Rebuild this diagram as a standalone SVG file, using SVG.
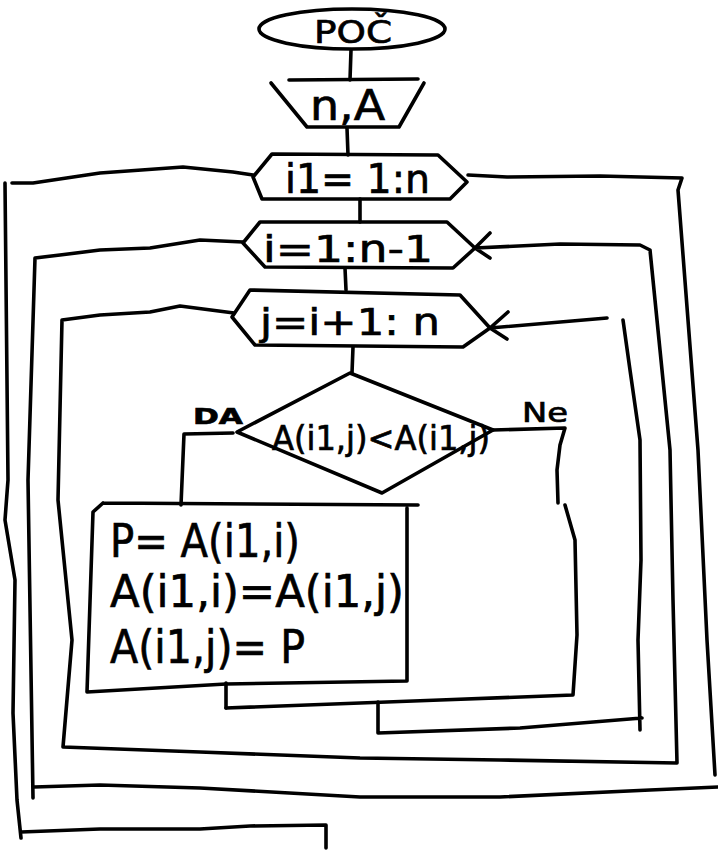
<svg xmlns="http://www.w3.org/2000/svg" width="718" height="853" viewBox="0 0 718 853">
<style>
.s{fill:none;stroke:#000;stroke-width:3.6;stroke-linecap:round;stroke-linejoin:round}
.t{font-family:"DejaVu Sans","Liberation Sans",sans-serif;fill:#000;stroke:#000;stroke-width:0.7}
</style>
<rect width="718" height="853" fill="#fff"/>
<g id="start">
<ellipse class="s" cx="352" cy="29" rx="93" ry="20"/>
<text class="t" x="314" y="43" font-size="32" textLength="78" lengthAdjust="spacingAndGlyphs">POČ</text>
</g>
<g id="input">
<path class="s" d="M289,80 L418,79 M271,83 L307,127 L399,127 L424,83"/>
<text class="t" x="310" y="120" font-size="42" textLength="75" lengthAdjust="spacingAndGlyphs">n,A</text>
</g>
<g id="loop-i1">
<path class="s" d="M272,154 L438,155 L467,182 L450,199 L262,199 L253,177 Z"/>
<text class="t" x="285" y="193" font-size="40" textLength="145" lengthAdjust="spacingAndGlyphs">i1= 1:n</text>
</g>
<g id="loop-i">
<path class="s" d="M260,222 L447,222 L475,248 L453,268 L265,267 L243,243 Z"/>
<text class="t" x="263" y="262" font-size="38" textLength="170" lengthAdjust="spacingAndGlyphs">i=1:n-1</text>
</g>
<g id="loop-j">
<path class="s" d="M250,290 L460,295 L490,328 L463,347 L255,345 L232,317 Z"/>
<text class="t" x="260" y="335" font-size="38" textLength="180" lengthAdjust="spacingAndGlyphs">j=i+1: n</text>
</g>
<g id="decision">
<path class="s" d="M350,373 L493,430 L382,493 L237,432 Z"/>
<text class="t" x="272" y="450" font-size="33" textLength="218" lengthAdjust="spacingAndGlyphs">A(i1,j)&lt;A(i1,j)</text>
</g>
<g id="swap">
<path class="s" d="M103,503 L418,505 M407,508 L407,681 L226,684 L87,692 L93,512 L103,503"/>
<text class="t" x="110" y="557" font-size="46" textLength="190" lengthAdjust="spacingAndGlyphs">P= A(i1,i)</text>
<text class="t" x="110" y="607" font-size="44" textLength="294" lengthAdjust="spacingAndGlyphs">A(i1,i)=A(i1,j)</text>
<text class="t" x="110" y="663" font-size="46" textLength="195" lengthAdjust="spacingAndGlyphs">A(i1,j)= P</text>
</g>
<g id="connectors">
<path class="s" d="M351,50 L350,80"/>
<path class="s" d="M347,128 L348,155"/>
<path class="s" d="M360,199 L360,222"/>
<path class="s" d="M345,268 L346,290"/>
<path class="s" d="M353,347 L352,373"/>
<path class="s" d="M233,433 L184,434 L181,505"/>
<text class="t" x="193" y="424" font-size="22" font-weight="bold" textLength="50" lengthAdjust="spacingAndGlyphs">DA</text>
<path class="s" d="M493,430 L565,428 L560,445 L557,470 L558,503 M565,505 L575,540 L577,635 L573,695 L440,700 L226,708"/>
<text class="t" x="522" y="422" font-size="26" textLength="46" lengthAdjust="spacingAndGlyphs">Ne</text>
<path class="s" d="M226,683 L226,708"/>
<path class="s" d="M378,702 L378,733 L520,728 L642,718 M640,730 L638,640 L641,560 L640,440 L630,370 L623,320 M607,318 L490,328 M490,328 L508,312 M490,328 L507,339"/>
<path class="s" d="M234,313 L180,306 L150,312 L100,315 L62,320 L58,500 L72,640 L63,747 L200,752 L360,758 L500,760 L677,763 L673,600 L670,450 L660,350 L650,250 L640,245 L560,244 L475,248 M475,248 L490,233 M475,248 L490,258"/>
<path class="s" d="M243,242 L200,240 L150,248 L100,250 L60,255 L35,258 L28,480 L33,798 M34,787 L100,785 L200,788 L360,797 L500,797 L650,790 L718,787"/>
<path class="s" d="M468,175 L507,177 L600,176 L682,178 L678,190 L698,450 L707,640 L715,775"/>
<path class="s" d="M253,175 L233,172 L183,167 L100,173 L33,183 L12,183 M5,183 L8,480 L5,520 L15,580 L13,713 L17,800 L21,838 M21,832 L100,829 L200,829 L250,826 L326,825 L326,848"/>
</g>
</svg>
